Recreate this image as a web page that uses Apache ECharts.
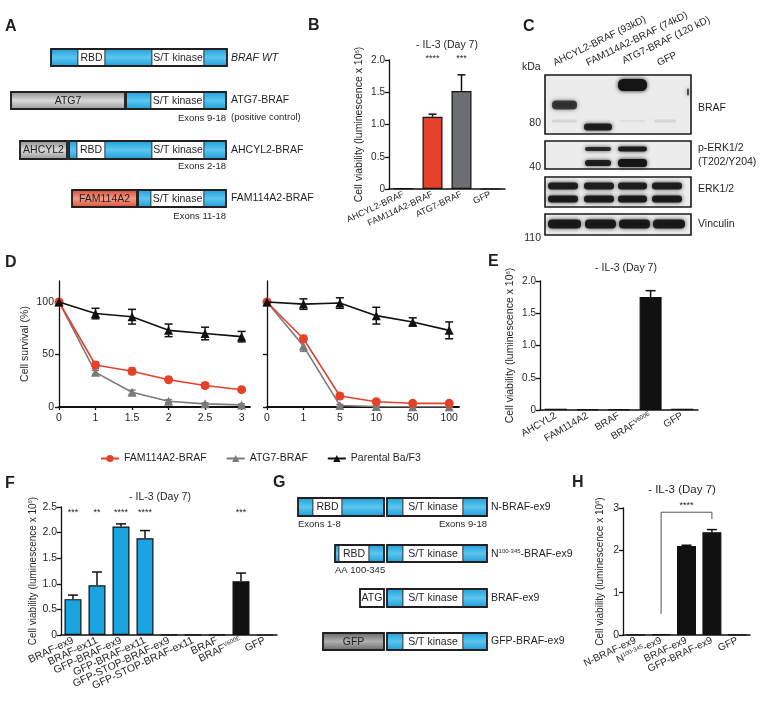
<!DOCTYPE html>
<html><head><meta charset="utf-8">
<script src="https://cdn.jsdelivr.net/npm/echarts@6/dist/echarts.min.js"></script>
<style>html,body{margin:0;padding:0;background:#fff}#c{width:762px;height:701px}</style>
</head><body><div id="c"></div>
<script>
// ---------------- DATA ----------------
const bCats = ['AHCYL2-BRAF','FAM114A2-BRAF','ATG7-BRAF','GFP'];
const bVals = [0.01, 1.12, 1.52, 0];
const bErr  = [0, 0.04, 0.25, 0];
const bStars = ['', '****', '***', ''];

const dabLabels = ['0','1','1.5','2','2.5','3'];
const traLabels = ['0','1','5','10','50','100'];
const dabFAM = [100, 40, 34, 26, 20.5, 16.5];
const dabFAMErr = [0, 3, 3, 2, 2, 2];
const dabATG = [100, 33, 14, 5.5, 3, 2];
const dabATGErr = [0, 2, 2, 1.5, 1, 1];
const dabPar = [100, 89, 86, 73, 70, 67];
const dabParErr = [0, 5, 7, 6, 6, 5];
const traFAM = [100, 65, 10.5, 5, 3.5, 3.5];
const traFAMErr = [0, 3, 2, 1, 1, 1];
const traATG = [100, 58, 1.5, 0.5, 0.2, 0.2];
const traATGErr = [0, 5, 1, 0.5, 0.5, 0.5];
const traPar = [100, 98, 99, 87, 81, 73];
const traParErr = [0, 5, 5, 8, 4, 8];
const legendNames = ['FAM114A2-BRAF','ATG7-BRAF','Parental Ba/F3'];

const eCats = ['AHCYL2','FAM114A2','BRAF','BRAF^{V600E}','GFP'];
const eVals = [0.02, 0.01, 0.01, 1.75, 0.02];
const eErr  = [0, 0, 0, 0.1, 0];

const fCats = ['BRAF-ex9','BRAF-ex11','GFP-BRAF-ex9','GFP-BRAF-ex11','GFP-STOP-BRAF-ex9','GFP-STOP-BRAF-ex11','BRAF','BRAF^{V600E}','GFP'];
const fVals = [0.70, 0.97, 2.12, 1.89, 0.005, 0.005, 0.005, 1.05, 0];
const fErr  = [0.08, 0.26, 0.05, 0.15, 0, 0, 0, 0.16, 0];
const fStars = ['***','**','****','****','','','','***',''];

const hCats = ['N-BRAF-ex9','N^{100-345}-ex9','BRAF-ex9','GFP-BRAF-ex9','GFP'];
const hVals = [0.01, 0.02, 2.1, 2.43, 0.01];
const hErr  = [0, 0, 0.02, 0.06, 0];
const hBracket = [1, 3, 2.9, 0.5, 2.74]; // from cat, to cat, top value, left foot, right foot
const hStars = '****';

// ---------------- STYLE HELPERS ----------------
const FONT = '"Liberation Sans", Arial, Helvetica, sans-serif';
const TXT = '#231f20';
const RED = '#e5412a', GRAY = '#7a7a7a', BLUE = '#1aa3e0';

function supFmt(s) {
  const m = s.match(/^(.*?)\^\{(.*?)\}(.*)$/);
  if (!m) return s;
  return '{a|' + m[1] + '}{s|' + m[2] + '}' + (m[3] ? '{a|' + m[3] + '}' : '');
}
function richFor(fs) {
  return { a: {fontSize: fs, fontFamily: FONT, color: TXT},
           s: {fontSize: Math.round(fs*0.6), fontFamily: FONT, color: TXT, verticalAlign: 'top', padding:[0,0,fs*0.45,0]} };
}
const yName = '{a|Cell viability (luminescence x 10}{s|6}{a|)}';

function catAx(gi, cats, fs, rot) {
  return {type:'category', gridIndex:gi, data:cats,
    axisLine:{lineStyle:{color:'#111', width:1.5}}, axisTick:{show:false},
    axisLabel:{rotate:rot, fontSize:fs, color:TXT, fontFamily:FONT, margin:5, interval:0,
      formatter: supFmt, rich: richFor(fs)}};
}
function yAx(gi, max, interval, nameGap, fs, nfs) {
  return {type:'value', gridIndex:gi, min:0, max, interval,
    axisLine:{show:true, lineStyle:{color:'#111', width:1.3}},
    axisTick:{show:true, length:4, lineStyle:{color:'#111', width:1.3}},
    splitLine:{show:false},
    axisLabel:{fontSize:fs, color:TXT, fontFamily:FONT, margin:4,
      formatter: v => v === 0 ? '0' : (interval < 1 ? v.toFixed(1) : String(v))},
    name: yName, nameLocation:'middle', nameGap, nameRotate:90,
    nameTextStyle:{fontSize:nfs, fontFamily:FONT, color:TXT, rich: richFor(nfs)}};
}
function barS(ax, vals, colors, bw) {
  return {type:'bar', xAxisIndex:ax, yAxisIndex:ax, barWidth:bw, animation:false,
    data: vals.map((v,i)=>({value:v, itemStyle:{color:colors[i]}})),
    itemStyle:{borderColor:'#111', borderWidth:1.2}};
}
function barErr(ax, vals, errs, half) {
  return {type:'custom', xAxisIndex:ax, yAxisIndex:ax, z:5, silent:true, animation:false,
    data: vals.map((v,i)=>[i, v, errs[i]]),
    renderItem:(p, api) => {
      const e = api.value(2);
      if (!(e > 0)) return {type:'group', children:[]};
      const a = api.coord([api.value(0), api.value(1)]);
      const b = api.coord([api.value(0), api.value(1) + e]);
      const st = {stroke:'#111', lineWidth:1.5};
      return {type:'group', children:[
        {type:'line', shape:{x1:a[0], y1:a[1], x2:b[0], y2:b[1]}, style:st},
        {type:'line', shape:{x1:b[0]-half, y1:b[1], x2:b[0]+half, y2:b[1]}, style:st}]};
    }};
}
function starS(ax, labels, yv, fs) {
  return {type:'custom', xAxisIndex:ax, yAxisIndex:ax, z:6, silent:true, animation:false,
    data: labels.map((s,i)=>[i, yv]),
    renderItem:(p, api) => {
      const t = labels[p.dataIndex];
      if (!t) return {type:'group', children:[]};
      const c = api.coord([api.value(0), api.value(1)]);
      return {type:'text', x:c[0], y:c[1],
        style:{text:t, fontSize:fs, fontFamily:FONT, fill:TXT, align:'center', verticalAlign:'middle'}};
    }};
}
function lineS(ax, name, vals, color, symbol, z) {
  return {type:'line', name, xAxisIndex:ax, yAxisIndex:ax, z, animation:false,
    data: vals.map((v,i)=>[i, v]), symbol, symbolSize:9,
    lineStyle:{color, width:1.6}, itemStyle:{color, borderWidth:0}};
}
function lineErr(ax, vals, errs, color, half, z) {
  return {type:'custom', xAxisIndex:ax, yAxisIndex:ax, z, silent:true, animation:false,
    data: vals.map((v,i)=>[i, v, errs[i]]),
    renderItem:(p, api) => {
      const e = api.value(2);
      if (!(e > 0)) return {type:'group', children:[]};
      const x = api.value(0), v = api.value(1);
      const a = api.coord([x, v - e]), b = api.coord([x, v + e]);
      const st = {stroke:color, lineWidth:1.5};
      return {type:'group', children:[
        {type:'line', shape:{x1:a[0], y1:a[1], x2:b[0], y2:b[1]}, style:st},
        {type:'line', shape:{x1:a[0]-half, y1:a[1], x2:a[0]+half, y2:a[1]}, style:st},
        {type:'line', shape:{x1:b[0]-half, y1:b[1], x2:b[0]+half, y2:b[1]}, style:st}]};
    }};
}
function doseX(gi, max, labels) {
  const idx = labels.map((l,i)=>i);
  return {type:'value', gridIndex:gi, min:0, max,
    axisLine:{show:true, onZero:false, lineStyle:{color:'#111', width:1.8}},
    axisTick:{show:true, length:3, customValues:idx, lineStyle:{color:'#111', width:1.3}},
    splitLine:{show:false},
    axisLabel:{customValues:idx, fontSize:10.5, color:TXT, fontFamily:FONT, margin:6,
      formatter: v => labels[Math.round(v)] ?? ''}};
}
function doseY(gi, showLabels) {
  const cv = [0, 50, 100];
  return {type:'value', gridIndex:gi, min:0, max:120,
    axisLine:{show:true, lineStyle:{color:'#111', width:1.3}},
    axisTick:{show:true, length:4, customValues:cv, lineStyle:{color:'#111', width:1.3}},
    splitLine:{show:false},
    axisLabel:{show:showLabels, customValues:cv, fontSize:10.5, color:TXT, fontFamily:FONT, margin:5},
    name: showLabels ? 'Cell survival (%)' : '', nameLocation:'middle', nameGap:28,
    nameTextStyle:{fontSize:10.5, fontFamily:FONT, color:TXT}};
}

// ---------------- GRAPHIC (schematics, blot, texts) ----------------
const G = [];
function txt(x, y, text, o = {}) {
  const style = {text, x:0, y:0, fill:o.color || TXT, fontSize:o.size || 10.5, fontFamily:FONT,
    fontWeight:o.bold ? 'bold' : 'normal', fontStyle:o.italic ? 'italic' : 'normal',
    align:o.align || 'left', verticalAlign:o.va || 'middle'};
  if (o.rich) style.rich = o.rich;
  G.push({type:'text', x, y, rotation:o.rot || 0, z:20, style});
}
const LG = echarts.graphic.LinearGradient;
const FILL = {
  b: new LG(0,0,0,1,[{offset:0,color:'#1d9fd9'},{offset:0.5,color:'#5cc6f0'},{offset:1,color:'#1d9fd9'}]),
  w: '#ffffff',
  g: new LG(0,0,0,1,[{offset:0,color:'#8e8e8e'},{offset:0.5,color:'#d8d8d8'},{offset:1,color:'#989898'}]),
  d: new LG(0,0,0,1,[{offset:0,color:'#666'},{offset:0.5,color:'#b0b0b0'},{offset:1,color:'#6a6a6a'}]),
  r: new LG(0,0,0,1,[{offset:0,color:'#d84a33'},{offset:0.5,color:'#f39c85'},{offset:1,color:'#da5139'}])
};
function box(x, y, h, segs) {
  let cx = x;
  segs.forEach(([w, t, label]) => {
    G.push({type:'rect', z:10, shape:{x:cx, y, width:w, height:h}, style:{fill:FILL[t], stroke:'#333', lineWidth:0.8}});
    if (label) txt(cx + w/2, y + h/2 + 0.5, label, {align:'center', size:10.5});
    cx += w;
  });
  G.push({type:'rect', z:11, shape:{x, y, width:cx - x, height:h}, style:{fill:'none', stroke:'#231f20', lineWidth:1.8}});
}
// Panel A
box(51, 49, 17, [[27,'b'],[27,'w','RBD'],[47,'b'],[52,'w','S/T kinase'],[23,'b']]);
txt(231, 58, 'BRAF WT', {italic:true});
box(11, 92, 17, [[114,'g','ATG7']]);
box(126, 92, 17, [[25,'b'],[53,'w','S/T kinase'],[22,'b']]);
txt(231, 100, 'ATG7-BRAF'); txt(231, 117, '(positive control)', {size:9.5});
txt(226, 118, 'Exons 9-18', {align:'right', size:9.5});
box(20, 141, 18, [[47,'g','AHCYL2']]);
box(69, 141, 18, [[8,'b'],[28,'w','RBD'],[47,'b'],[52,'w','S/T kinase'],[22,'b']]);
txt(231, 150, 'AHCYL2-BRAF');
txt(226, 166, 'Exons 2-18', {align:'right', size:9.5});
box(72, 190, 17, [[65,'r','FAM114A2']]);
box(138, 190, 17, [[13,'b'],[53,'w','S/T kinase'],[22,'b']]);
txt(231, 198, 'FAM114A2-BRAF');
txt(226, 216, 'Exons 11-18', {align:'right', size:9.5});

// Panel G
const kin = [[16,'b'],[60,'w','S/T kinase'],[24,'b']];
box(298, 498, 18, [[15,'b'],[29,'w','RBD'],[42,'b']]); box(387, 498, 18, kin);
txt(491, 507, 'N-BRAF-ex9');
txt(298, 524, 'Exons 1-8', {size:9.5}); txt(487, 524, 'Exons 9-18', {align:'right', size:9.5});
box(335, 545, 17, [[4,'b'],[30,'w','RBD'],[15,'b']]); box(387, 545, 17, kin);
txt(491, 554, '{a|N}{s|100-345}{a|-BRAF-ex9}', {rich:richFor(10.5)});
txt(335, 570, 'AA 100-345', {size:9.5});
box(360, 589, 18, [[24,'w','ATG']]); box(387, 589, 18, kin);
txt(491, 598, 'BRAF-ex9');
box(323, 633, 17, [[61,'d','GFP']]); box(387, 633, 17, kin);
txt(491, 641, 'GFP-BRAF-ex9');

// Panel C (western blot)
const strips = [[75,134],[141,169],[177,207],[214,235]];
strips.forEach(([y1,y2]) => G.push({type:'rect', z:10, shape:{x:545, y:y1, width:146, height:y2-y1},
  style:{fill:'#ececec', stroke:'#1a1a1a', lineWidth:1.6}}));
function band(x1, x2, cy, h, a) {
  G.push({type:'rect', z:12, shape:{x:x1 + 1, y:cy - h/2 + 0.5, width:x2 - x1 - 2, height:h - 1, r:h/2.5},
    style:{fill:'rgba(20,20,20,' + a + ')', shadowBlur:4, shadowColor:'rgba(0,0,0,' + (a*0.9) + ')'}});
}
band(551,578,105,10,0.75); band(551,578,121,4,0.1);
band(583,613,127,8,0.9);
band(617,648,85,13,1); band(619,646,121,3,0.06);
band(653,677,121,4,0.1);
band(686,690,92,8,0.7);
band(584,612,149,5,0.85); band(584,612,163,7,0.9);
band(617,648,149,6,0.92); band(617,648,163,9,0.98);
[[547,579],[583,615],[617,648],[651,683]].forEach(([a,b]) => { band(a,b,186,8,0.9); band(a,b,199,8,0.92); });
[[547,582],[584,617],[618,651],[652,686]].forEach(([a,b]) => band(a,b,224,10,0.92));
txt(522, 67, 'kDa');
txt(541, 123, '80', {align:'right'}); txt(541, 167, '40', {align:'right'}); txt(541, 238, '110', {align:'right'});
const rot = 26 * Math.PI / 180;
[['AHCYL2-BRAF (93kD)',556,68],['FAM114A2-BRAF (74kD)',589,68],['ATG7-BRAF (120 kD)',625,66],['GFP',660,68]]
  .forEach(([t,x,y]) => txt(x, y, t, {rot, va:'bottom', size:10}));
txt(698, 108, 'BRAF'); txt(698, 148, 'p-ERK1/2'); txt(698, 162, '(T202/Y204)');
txt(698, 189, 'ERK1/2'); txt(698, 224, 'Vinculin');

// panel letters
[['A',5,27],['B',308,26],['C',523,27],['D',5,263],['E',488,262],['F',5,484],['G',273,483],['H',572,483]]
  .forEach(([t,x,y]) => txt(x, y, t, {bold:true, size:16}));
// titles
txt(447, 45, '- IL-3 (Day 7)', {align:'center'});
txt(626, 268, '- IL-3 (Day 7)', {align:'center'});
txt(160, 497, '- IL-3 (Day 7)', {align:'center'});
txt(682, 490, '- IL-3 (Day 7)', {align:'center', size:11.5});

// ---------------- CHART ----------------
const chart = echarts.init(document.getElementById('c'), null, {renderer:'canvas', width:762, height:701});
const gridBase = {containLabel:false, outerBoundsMode:'none', show:false};
const option = {
  backgroundColor:'#ffffff',
  animation:false,
  textStyle:{fontFamily:FONT},
  grid:[
    Object.assign({left:389, top:60, width:116, height:129}, gridBase),
    Object.assign({left:59, top:281, width:191, height:126}, gridBase),
    Object.assign({left:267, top:281, width:192, height:126}, gridBase),
    Object.assign({left:540, top:281, width:158, height:129}, gridBase),
    Object.assign({left:61, top:507, width:216, height:128}, gridBase),
    Object.assign({left:623, top:508, width:127, height:127}, gridBase)
  ],
  xAxis:[
    catAx(0, bCats, 9, 25),
    doseX(1, 5.23, dabLabels),
    doseX(2, 5.27, traLabels),
    catAx(3, eCats, 10, 30),
    catAx(4, fCats, 10.5, 25),
    catAx(5, hCats, 10, 25)
  ],
  yAxis:[
    yAx(0, 2, 0.5, 24, 10, 10.5),
    doseY(1, true),
    doseY(2, false),
    yAx(3, 2, 0.5, 24, 10, 10.5),
    yAx(4, 2.5, 0.5, 23, 10.5, 10),
    yAx(5, 3, 1, 18, 10.5, 10)
  ],
  legend:{left:95, top:448, itemGap:19, itemWidth:18, itemHeight:9, data:legendNames,
    textStyle:{fontSize:10.5, fontFamily:FONT, color:TXT}},
  graphic:{elements:G},
  series:[
    barS(0, bVals, ['#111', RED, '#6d6e71', '#111'], 20),
    barErr(0, bVals, bErr, 4),
    starS(0, bStars, 2.03, 9),

    lineErr(1, dabATG, dabATGErr, GRAY, 3.5, 3), lineS(1, 'ATG7-BRAF', dabATG, GRAY, 'triangle', 4),
    lineErr(1, dabFAM, dabFAMErr, RED, 3.5, 5), lineS(1, 'FAM114A2-BRAF', dabFAM, RED, 'circle', 6),
    lineErr(1, dabPar, dabParErr, '#111', 4, 7), lineS(1, 'Parental Ba/F3', dabPar, '#111', 'triangle', 8),
    lineErr(2, traATG, traATGErr, GRAY, 3.5, 3), lineS(2, 'ATG7-BRAF', traATG, GRAY, 'triangle', 4),
    lineErr(2, traFAM, traFAMErr, RED, 3.5, 5), lineS(2, 'FAM114A2-BRAF', traFAM, RED, 'circle', 6),
    lineErr(2, traPar, traParErr, '#111', 4, 7), lineS(2, 'Parental Ba/F3', traPar, '#111', 'triangle', 8),

    barS(3, eVals, eVals.map(()=>'#111'), 22),
    barErr(3, eVals, eErr, 5),

    barS(4, fVals, fVals.map((v,i)=> i < 6 ? BLUE : '#111'), 17),
    barErr(4, fVals, fErr, 5),
    starS(4, fStars, 2.4, 9),

    barS(5, hVals, hVals.map(()=>'#111'), 19),
    barErr(5, hVals, hErr, 5),
    {type:'custom', xAxisIndex:5, yAxisIndex:5, z:6, silent:true, animation:false, data:[[hBracket[0], hBracket[2]]],
      renderItem:(p, api) => {
        const [c1, c2, top, lf, rf] = hBracket;
        const pts = [api.coord([c1, lf]), api.coord([c1, top]), api.coord([c2, top]), api.coord([c2, rf])];
        const mid = api.coord([(c1 + c2) / 2, top]);
        return {type:'group', children:[
          {type:'polyline', shape:{points:pts}, style:{stroke:'#555', lineWidth:1, fill:'none'}},
          {type:'text', x:mid[0], y:mid[1] - 7, style:{text:hStars, fontSize:9, fontFamily:FONT, fill:TXT, align:'center', verticalAlign:'middle'}}]};
      }}
  ]
};
chart.setOption(option);
</script>
</body></html>
